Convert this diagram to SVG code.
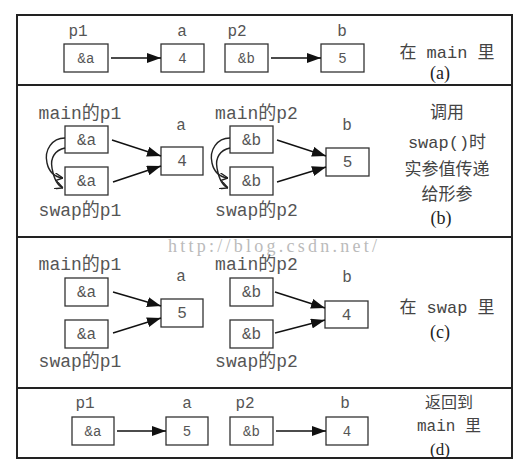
<svg xmlns="http://www.w3.org/2000/svg" width="530" height="472" viewBox="0 0 530 472">
<defs>
<style>
.box{fill:#fff;stroke:#333;stroke-width:1.3}
.frame{fill:none;stroke:#222;stroke-width:2}
.sep{stroke:#222;stroke-width:2}
.m{font-family:"Liberation Mono","Noto Sans CJK SC",monospace;fill:#555;text-anchor:middle}
.bt{font-size:16px}
.bs{font-size:14px}
.lb{font-size:16px}
.nm{font-size:18px}
.cn{font-family:"Liberation Mono","Noto Sans CJK SC",sans-serif;fill:#444;text-anchor:middle;font-size:17px}
.pl{font-family:"Liberation Serif",serif;fill:#222;text-anchor:middle;font-size:18px}
.wm{font-family:"Liberation Serif",serif;fill:#bbb;font-size:18px}
.ar{stroke:#111;stroke-width:1.4;fill:none}
.cv{stroke:#222;stroke-width:1.4;fill:none}
</style>
<marker id="ah" markerUnits="userSpaceOnUse" markerWidth="14" markerHeight="10" refX="14" refY="5" orient="auto"><path d="M0,0 L14,5 L0,10 z" fill="#111"/></marker>
<marker id="sh" markerUnits="userSpaceOnUse" markerWidth="8" markerHeight="8" refX="8" refY="4" orient="auto"><path d="M0,0 L8,4 L0,8" fill="none" stroke="#222" stroke-width="1.4"/></marker>
</defs>
<rect width="530" height="472" fill="#fff"/>
<g id="frame">
<rect class="frame" x="17" y="15" width="495" height="443"/>
<line class="sep" x1="17" y1="85" x2="512" y2="85"/>
<line class="sep" x1="17" y1="237" x2="512" y2="237"/>
<line class="sep" x1="17" y1="388" x2="512" y2="388"/>
</g>
<text class="wm" x="168" y="252" textLength="209" lengthAdjust="spacing">http://blog.csdn.net/</text>
<!-- panel a -->
<g id="a_p1"><text class="m lb" x="78" y="36">p1</text><rect class="box" x="64" y="44" width="44" height="28"/><text class="m bs" x="86" y="63">&amp;a</text></g>
<g id="a_a"><text class="m lb" x="182" y="36">a</text><rect class="box" x="161" y="44" width="43" height="28"/><text class="m bs" x="182.5" y="63">4</text></g>
<g id="a_p2"><text class="m lb" x="237" y="36">p2</text><rect class="box" x="225" y="44" width="43" height="28"/><text class="m bs" x="246.5" y="63">&amp;b</text></g>
<g id="a_b"><text class="m lb" x="342" y="36">b</text><rect class="box" x="321" y="44" width="43" height="28"/><text class="m bs" x="342.5" y="63">5</text></g>
<g id="a_note"><text class="cn" x="447" y="58">在 main 里</text><text class="pl" x="440" y="79">(a)</text></g>
<!-- panel b -->
<g id="b_mp1"><text class="m nm" x="80" y="119">main的p1</text><rect class="box" x="65" y="126" width="43" height="27"/><text class="m bt" x="86.5" y="145">&amp;a</text></g>
<g id="b_sp1"><rect class="box" x="65" y="167" width="43" height="28"/><text class="m bt" x="86.5" y="186">&amp;a</text><text class="m nm" x="80" y="216">swap的p1</text></g>
<g id="b_a"><text class="m lb" x="181" y="130">a</text><rect class="box" x="161" y="147" width="42" height="28"/><text class="m bt" x="182" y="166">4</text></g>
<g id="b_mp2"><text class="m nm" x="256.5" y="119">main的p2</text><rect class="box" x="230" y="126" width="43" height="27"/><text class="m bt" x="251.5" y="145">&amp;b</text></g>
<g id="b_sp2"><rect class="box" x="230" y="167" width="43" height="28"/><text class="m bt" x="251.5" y="186">&amp;b</text><text class="m nm" x="256.5" y="216">swap的p2</text></g>
<g id="b_b"><text class="m lb" x="347" y="130">b</text><rect class="box" x="326" y="148" width="43" height="28"/><text class="m bt" x="347.5" y="167">5</text></g>
<g id="b_note"><text class="cn" x="447" y="118">调用</text><text class="cn" x="447" y="148">swap()时</text><text class="cn" x="447" y="175">实参值传递</text><text class="cn" x="447" y="200">给形参</text><text class="pl" x="441" y="224">(b)</text></g>
<!-- panel c -->
<g id="c_mp1"><text class="m nm" x="80" y="270">main的p1</text><rect class="box" x="65" y="278" width="43" height="28"/><text class="m bt" x="86.5" y="297">&amp;a</text></g>
<g id="c_sp1"><rect class="box" x="65" y="320" width="43" height="28"/><text class="m bt" x="86.5" y="339">&amp;a</text><text class="m nm" x="80" y="367">swap的p1</text></g>
<g id="c_a"><text class="m lb" x="181" y="281">a</text><rect class="box" x="161" y="299" width="42" height="28"/><text class="m bt" x="182" y="318">5</text></g>
<g id="c_mp2"><text class="m nm" x="256.5" y="270">main的p2</text><rect class="box" x="230" y="278" width="43" height="28"/><text class="m bt" x="251.5" y="297">&amp;b</text></g>
<g id="c_sp2"><rect class="box" x="230" y="320" width="43" height="28"/><text class="m bt" x="251.5" y="339">&amp;b</text><text class="m nm" x="256.5" y="367">swap的p2</text></g>
<g id="c_b"><text class="m lb" x="347" y="282">b</text><rect class="box" x="325" y="301" width="43" height="27"/><text class="m bt" x="346.5" y="320">4</text></g>
<g id="c_note"><text class="cn" x="447" y="313">在 swap 里</text><text class="pl" x="440" y="338">(c)</text></g>
<!-- panel d -->
<g id="d_p1"><text class="m lb" x="85" y="408">p1</text><rect class="box" x="72" y="417" width="42" height="28"/><text class="m bs" x="93" y="436">&amp;a</text></g>
<g id="d_a"><text class="m lb" x="187" y="408">a</text><rect class="box" x="166" y="417" width="42" height="28"/><text class="m bs" x="187" y="436">5</text></g>
<g id="d_p2"><text class="m lb" x="245" y="408">p2</text><rect class="box" x="230" y="417" width="43" height="28"/><text class="m bs" x="251.5" y="436">&amp;b</text></g>
<g id="d_b"><text class="m lb" x="345" y="408">b</text><rect class="box" x="326" y="417" width="42" height="28"/><text class="m bs" x="347" y="436">4</text></g>
<g id="d_note"><text class="cn" x="449" y="408" style="font-size:16px">返回到</text><text class="cn" x="449" y="431" style="font-size:16px">main 里</text><text class="pl" x="440" y="455" style="font-size:17px">(d)</text></g>
<g id="connectors">
<line class="ar" x1="111" y1="58" x2="161" y2="58" marker-end="url(#ah)"/>
<line class="ar" x1="271" y1="58" x2="321" y2="58" marker-end="url(#ah)"/>
<line class="ar" x1="112" y1="140" x2="161" y2="156" marker-end="url(#ah)"/>
<line class="ar" x1="113" y1="182" x2="161" y2="166" marker-end="url(#ah)"/>
<line class="ar" x1="277" y1="140" x2="326" y2="156" marker-end="url(#ah)"/>
<line class="ar" x1="277" y1="182" x2="326" y2="167" marker-end="url(#ah)"/>
<path class="cv" d="M65,138 C52,138 44,150 47,163 C49,172 55,177 63,178" marker-end="url(#sh)"/>
<path class="cv" d="M65,148 C55,150 50,158 52,168 C54,180 58,186 63,188" marker-end="url(#sh)"/>
<path class="cv" d="M230,138 C217,138 209,150 212,163 C214,172 220,177 228,178" marker-end="url(#sh)"/>
<path class="cv" d="M230,148 C220,150 215,158 217,168 C219,180 223,186 228,188" marker-end="url(#sh)"/>
<line class="ar" x1="113" y1="292" x2="161" y2="306" marker-end="url(#ah)"/>
<line class="ar" x1="113" y1="333" x2="161" y2="318" marker-end="url(#ah)"/>
<line class="ar" x1="275" y1="292" x2="325" y2="308" marker-end="url(#ah)"/>
<line class="ar" x1="275" y1="333" x2="325" y2="320" marker-end="url(#ah)"/>
<line class="ar" x1="117" y1="431" x2="166" y2="431" marker-end="url(#ah)"/>
<line class="ar" x1="276" y1="431" x2="326" y2="431" marker-end="url(#ah)"/>
</g>
</svg>
